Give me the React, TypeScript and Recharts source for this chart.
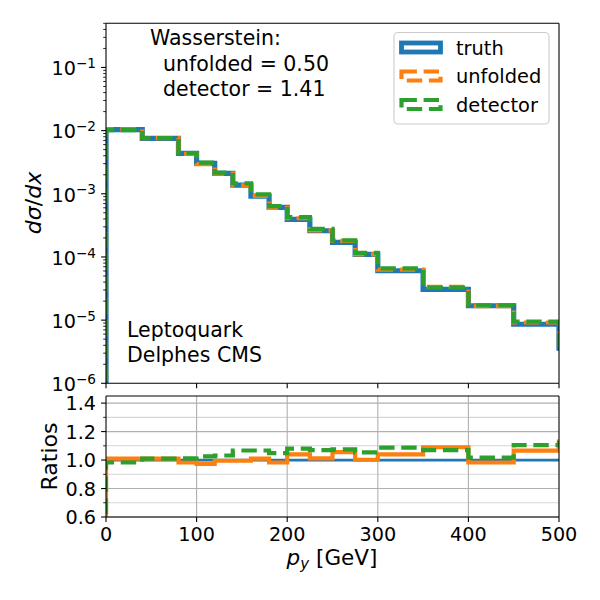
import React from 'react';
import { ComposedChart, Line, XAxis, YAxis, CartesianGrid } from 'recharts';

// ---- data ----
// bin edges; the final bin (500-550) lies just beyond the plotted range
const binEdges = [0, 40, 80, 100, 120, 140, 160, 180, 200, 225, 250, 275, 300, 350, 400, 450, 500, 550];
const truthHist = [0.0104, 0.00754, 0.00435, 0.00303, 0.0021, 0.00137, 0.00092, 0.00061, 0.000394, 0.00026, 0.00017, 0.00011, 6.05e-5, 3.07e-5, 1.69e-5, 8.6e-6, 3.6e-6];
const unfoldedHist = [0.0105, 0.00762, 0.00428, 0.00295, 0.00209, 0.00136, 0.000929, 0.0006, 0.00041, 0.000263, 0.00018, 0.00011, 6.29e-5, 3.35e-5, 1.66e-5, 9.17e-6, 4.07e-6];
const detectorHist = [0.01022, 0.00762, 0.0044, 0.00311, 0.00217, 0.00146, 0.000982, 0.00064, 0.000426, 0.000278, 0.000183, 0.000116, 6.58e-5, 3.28e-5, 1.72e-5, 9.5e-6, 4.03e-6];
const truthRatio = [1, 1, 1, 1, 1, 1, 1, 1, 1, 1, 1, 1, 1, 1, 1, 1, 1];
const unfoldedRatio = [1.01, 1.01, 0.983, 0.973, 0.995, 0.995, 1.01, 0.983, 1.04, 1.012, 1.056, 1.002, 1.04, 1.09, 0.983, 1.066, 1.13];
const detectorRatio = [0.983, 1.01, 1.012, 1.026, 1.032, 1.067, 1.067, 1.049, 1.08, 1.07, 1.075, 1.054, 1.088, 1.07, 1.017, 1.105, 1.12];

const xTicks = [0, 100, 200, 300, 400, 500];
const logMajorTicks = [1e-6, 1e-5, 1e-4, 1e-3, 1e-2, 1e-1];
const logMinorMultipliers = [2, 3, 4, 5, 6, 7, 8, 9];
const ratioMajorTicks = [0.6, 0.8, 1.0, 1.2, 1.4];
const ratioMinorTicks = [0.7, 0.9, 1.1, 1.3];
const legendLabels = ['truth', 'unfolded', 'detector'];
const wassersteinLines = ['Wasserstein:', '  unfolded = 0.50', '  detector = 1.41'];
const sampleLines = ['Leptoquark', 'Delphes CMS'];

const BLUE = '#1f77b4';
const ORANGE = '#ff7f0e';
const GREEN = '#2ca02c';
const FONT = 'DejaVu Sans, sans-serif';
const DASH = '15.4 6.7';
const TS = 6;
const TM = 3;
const MAJ = 4.9;
const MIN = 2.8;
const TICK_FONT = 19.2;
const LABEL_FONT = 22;

const logTicks: number[] = [];
logMajorTicks.forEach((m) => {
  logTicks.push(m);
  logMinorMultipliers.forEach((k) => {
    const v = m * k;
    if (v <= 0.5 + 1e-12) logTicks.push(v);
  });
});
const ratioTicks = [...ratioMajorTicks, ...ratioMinorTicks].sort((a, b) => a - b);

function buildRows(floor: { t: number; u: number; d: number }, t: number[], u: number[], d: number[]) {
  const rows: { x: number; t: number; u: number; d: number }[] = [];
  rows.push({ x: binEdges[0], t: floor.t, u: floor.u, d: floor.d });
  for (let i = 0; i < t.length; i++) rows.push({ x: binEdges[i], t: t[i], u: u[i], d: d[i] });
  const n = t.length - 1;
  rows.push({ x: binEdges[binEdges.length - 1], t: t[n], u: u[n], d: d[n] });
  return rows;
}

const topRows = buildRows({ t: 1e-7, u: 1e-7, d: 1e-7 }, truthHist, unfoldedHist, detectorHist);
const ratioRows = buildRows({ t: 1, u: 0, d: 0 }, truthRatio, unfoldedRatio, detectorRatio);

const isDecade = (v: number) => Math.abs(Math.log10(v) - Math.round(Math.log10(v))) < 1e-6;

const XTick = (props: any) => {
  const { x, y, payload, showLabel } = props;
  const axisY = y - TS - TM;
  return (
    <g>
      <line x1={x} x2={x} y1={axisY} y2={axisY + MAJ} stroke="#000" strokeWidth={1.1} />
      {showLabel && (
        <text x={x} y={axisY + 24} textAnchor="middle" fontSize={TICK_FONT} fontFamily={FONT} fill="#000">
          {payload.value}
        </text>
      )}
    </g>
  );
};

const LogYTick = (props: any) => {
  const { x, y, payload } = props;
  const axisX = x + TS + TM;
  const v = payload.value;
  const major = isDecade(v);
  const len = major ? MAJ : MIN;
  const exp = Math.round(Math.log10(v));
  return (
    <g>
      <line x1={axisX - len} x2={axisX} y1={y} y2={y} stroke="#000" strokeWidth={major ? 1.1 : 0.85} />
      {major && (
        <text x={axisX - 10} y={y + 7.8} textAnchor="end" fontSize={TICK_FONT} fontFamily={FONT} fill="#000">
          <tspan>10</tspan>
          <tspan dy={-7.2} fontSize={13.6}>{'\u2212' + Math.abs(exp)}</tspan>
        </text>
      )}
    </g>
  );
};

const RatioYTick = (props: any) => {
  const { x, y, payload } = props;
  const axisX = x + TS + TM;
  const v = payload.value;
  const major = ratioMajorTicks.some((m) => Math.abs(m - v) < 1e-9);
  const len = major ? MAJ : MIN;
  return (
    <g>
      <line x1={axisX - len} x2={axisX} y1={y} y2={y} stroke="#000" strokeWidth={major ? 1.1 : 0.85} />
      {major && (
        <text x={axisX - 10} y={y + 7.2} textAnchor="end" fontSize={TICK_FONT} fontFamily={FONT} fill="#000">
          {v.toFixed(1)}
        </text>
      )}
    </g>
  );
};

const axisLine = { stroke: '#000', strokeWidth: 1.1 };

function TopPanel() {
  return (
    <ComposedChart
      width={600}
      height={600}
      data={topRows}
      margin={{ top: 22.3, right: 40, bottom: 600 - 383.3 - 30, left: 105 }}
      style={{ position: 'absolute', left: 0, top: 0 }}
    >
      <XAxis
        dataKey="x"
        type="number"
        domain={[0, 500]}
        allowDataOverflow
        ticks={xTicks}
        interval={0}
        height={30}
        tickSize={TS}
        tickMargin={TM}
        tickLine={false}
        axisLine={axisLine}
        tick={(p: any) => <XTick {...p} showLabel={false} />}
      />
      <XAxis xAxisId="top" orientation="top" type="number" domain={[0, 500]} height={1} tick={false} tickLine={false} axisLine={axisLine} />
      <YAxis
        type="number"
        scale="log"
        domain={[1e-6, 0.5]}
        allowDataOverflow
        ticks={logTicks}
        interval={0}
        width={1}
        tickSize={TS}
        tickMargin={TM}
        tickLine={false}
        axisLine={axisLine}
        tick={(p: any) => <LogYTick {...p} />}
      />
      <YAxis yAxisId="right" orientation="right" type="number" domain={[0, 1]} width={1} tick={false} tickLine={false} axisLine={axisLine} />
      <Line dataKey="t" type="stepAfter" stroke={BLUE} strokeWidth={5.2} dot={false} activeDot={false} isAnimationActive={false} strokeLinejoin="miter" />
      <Line dataKey="u" type="stepAfter" stroke={ORANGE} strokeWidth={4.2} strokeDasharray={DASH} dot={false} activeDot={false} isAnimationActive={false} strokeLinejoin="miter" />
      <Line dataKey="d" type="stepAfter" stroke={GREEN} strokeWidth={4.2} strokeDasharray={DASH} dot={false} activeDot={false} isAnimationActive={false} strokeLinejoin="miter" />
    </ComposedChart>
  );
}

function RatioPanel() {
  return (
    <ComposedChart
      width={600}
      height={600}
      data={ratioRows}
      margin={{ top: 395, right: 40, bottom: 600 - 517 - 30, left: 105 }}
      style={{ position: 'absolute', left: 0, top: 0 }}
    >
      <CartesianGrid horizontalValues={ratioMinorTicks} vertical={false} stroke="#d5d5d5" strokeWidth={1.1} />
      <CartesianGrid horizontalValues={ratioMajorTicks} verticalValues={[100, 200, 300, 400]} stroke="#b0b0b0" strokeWidth={1.1} />
      <XAxis
        dataKey="x"
        type="number"
        domain={[0, 500]}
        allowDataOverflow
        ticks={xTicks}
        interval={0}
        height={30}
        tickSize={TS}
        tickMargin={TM}
        tickLine={false}
        axisLine={axisLine}
        tick={(p: any) => <XTick {...p} showLabel={true} />}
      />
      <XAxis xAxisId="top" orientation="top" type="number" domain={[0, 500]} height={1} tick={false} tickLine={false} axisLine={axisLine} />
      <YAxis
        type="number"
        domain={[0.6, 1.45]}
        allowDataOverflow
        ticks={ratioTicks}
        interval={0}
        width={1}
        tickSize={TS}
        tickMargin={TM}
        tickLine={false}
        axisLine={axisLine}
        tick={(p: any) => <RatioYTick {...p} />}
      />
      <YAxis yAxisId="right" orientation="right" type="number" domain={[0, 1]} width={1} tick={false} tickLine={false} axisLine={axisLine} />
      <Line dataKey="t" type="stepAfter" stroke={BLUE} strokeWidth={2.8} dot={false} activeDot={false} isAnimationActive={false} />
      <Line dataKey="u" type="stepAfter" stroke={ORANGE} strokeWidth={4.2} dot={false} activeDot={false} isAnimationActive={false} strokeLinejoin="miter" />
      <Line dataKey="d" type="stepAfter" stroke={GREEN} strokeWidth={4.2} strokeDasharray={DASH} dot={false} activeDot={false} isAnimationActive={false} strokeLinejoin="miter" />
    </ComposedChart>
  );
}

function Overlay() {
  const colors = [BLUE, ORANGE, GREEN];
  const rowY = [47.5, 76, 104.5];
  return (
    <svg width={600} height={600} style={{ position: 'absolute', left: 0, top: 0, pointerEvents: 'none' }} fontFamily={FONT}>
      {/* legend */}
      <rect x={394} y={32.5} width={155} height={91.5} rx={4} ry={4} fill="#fff" fillOpacity={0.8} stroke="#cccccc" strokeWidth={1.1} />
      {legendLabels.map((lab, i) => (
        <g key={lab}>
          <rect
            x={401.5}
            y={rowY[i] - 4.5}
            width={39}
            height={9}
            fill="none"
            stroke={colors[i]}
            strokeWidth={i === 0 ? 4.8 : 4.2}
            strokeDasharray={i === 0 ? undefined : DASH}
          />
          <text x={456} y={rowY[i] + 7} fontSize={19.4} fill="#000">
            {lab}
          </text>
        </g>
      ))}
      {/* Wasserstein annotation */}
      {wassersteinLines.map((ln, i) => (
        <text key={i} x={150} y={45 + i * 25.5} fontSize={20.5} fill="#000" style={{ whiteSpace: 'pre' }} xmlSpace="preserve">
          {ln}
        </text>
      ))}
      {/* sample annotation */}
      {sampleLines.map((ln, i) => (
        <text key={i} x={127} y={336.7 + i * 25} fontSize={20.5} fill="#000">
          {ln}
        </text>
      ))}
      {/* axis labels */}
      <text x={41} y={203} transform="rotate(-90 41 203)" textAnchor="middle" fontSize={LABEL_FONT} fill="#000">
        <tspan fontStyle="italic">dσ</tspan>
        <tspan>/</tspan>
        <tspan fontStyle="italic">dx</tspan>
      </text>
      <text x={56.7} y={456.5} transform="rotate(-90 56.7 456.5)" textAnchor="middle" fontSize={LABEL_FONT} fill="#000">
        Ratios
      </text>
      <text x={332} y={565} textAnchor="middle" fontSize={21.5} fill="#000">
        <tspan fontStyle="italic">p</tspan>
        <tspan fontStyle="italic" fontSize={15} dy={3.5}>y</tspan>
        <tspan dy={-3.5}>{' [GeV]'}</tspan>
      </text>
    </svg>
  );
}

export default function App() {
  return (
    <div style={{ position: 'absolute', left: 0, top: 0, width: 600, height: 600, background: '#fff', fontFamily: FONT }}>
      <TopPanel />
      <RatioPanel />
      <Overlay />
    </div>
  );
}
